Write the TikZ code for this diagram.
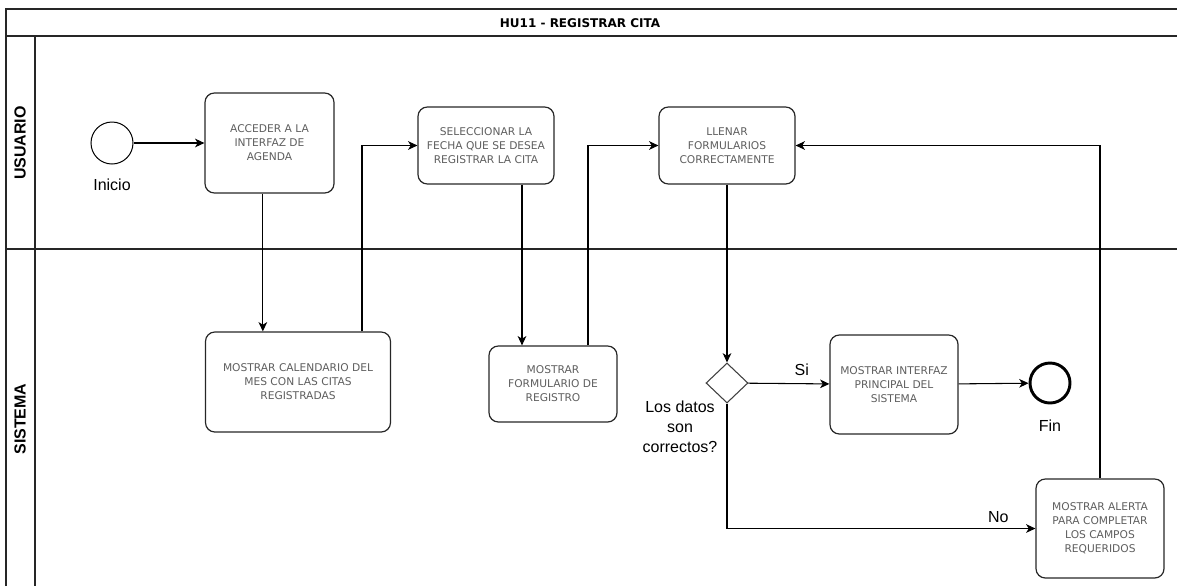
\documentclass[tikz,border=0pt]{standalone}
\usepackage{fontspec}
\setmainfont{Liberation Sans}
\newfontfamily\boxfont{DejaVu Sans}
\usetikzlibrary{positioning}
\usetikzlibrary{calc}
\usetikzlibrary{arrows.meta}
\usetikzlibrary{shapes.geometric}
\definecolor{boxtext}{HTML}{5E5E5E}

\begin{document}
\begin{tikzpicture}[x=0.75pt,y=-0.75pt,
  lane/.style={draw=black!85,line width=1pt},
  lanename/.style={rotate=90,font=\bfseries\fontsize{12}{14}\selectfont},
  box/.style={draw=black!85,line width=0.9pt,rounded corners=7pt,align=center,inner sep=2pt,
    text=boxtext,font=\boxfont\fontsize{8}{10.5}\selectfont},
  event/.style={circle,draw,line width=0.75pt,minimum size=31.5pt,inner sep=0pt},
  gate/.style={diamond,draw=black!75,line width=0.8pt,minimum width=31.5pt,minimum height=30pt,inner sep=0pt},
  lbl/.style={font=\fontsize{12}{15}\selectfont,align=center},
  flow/.style={line width=0.8pt,-{Stealth[length=7pt,width=6.5pt,inset=2pt]}}]
\useasboundingbox (0,0) rectangle (1177,586);

% pool and lanes
\draw[lane] (6,586) -- (6,9) -- (1177,9);
\draw[lane] (6,36) -- (1177,36);
\draw[lane] (6,249) -- (1177,249);
\draw[lane] (35,36) -- (35,586);
\node[font=\boxfont\bfseries\fontsize{9}{11}\selectfont] (titulo) at (580,23) {HU11 - REGISTRAR CITA};
\node[lanename] (usr) at (20,143) {USUARIO};
\node[lanename] (sis) at (20,419) {SISTEMA};

% usuario
\node[event] (ini) at (112,143) {};
\node[lbl,below=7.5pt of ini] (inil) {Inicio};
\node[box,minimum width=96.75pt,minimum height=75pt] (acc) at (269.5,143) {ACCEDER A LA\\INTERFAZ DE\\AGENDA};
\node[box,minimum width=102pt,minimum height=57.75pt] (sel) at (486,145.5) {SELECCIONAR LA\\FECHA QUE SE DESEA\\REGISTRAR LA CITA};
\node[box,minimum width=102pt,minimum height=57.75pt] (lle) at (727,145.5) {LLENAR\\FORMULARIOS\\CORRECTAMENTE};

% sistema
\node[box,minimum width=138.75pt,minimum height=75pt] (cal) at (298,382) {MOSTRAR CALENDARIO DEL\\MES CON LAS CITAS\\REGISTRADAS};
\node[box,minimum width=96pt,minimum height=57pt] (frm) at (553,384) {MOSTRAR\\FORMULARIO DE\\REGISTRO};
\node[gate] (dec) at (727,383) {};
\node[lbl] (pre) at (680,427) {Los datos\\son\\correctos?};
\node[box,minimum width=96pt,minimum height=74.25pt] (ppl) at (894,384.5) {MOSTRAR INTERFAZ\\PRINCIPAL DEL\\SISTEMA};
\node[event,line width=2.2pt,minimum size=30pt] (fin) at (1050,383) {};
\node[lbl,below=8pt of fin] (finl) {Fin};
\node[box,minimum width=96pt,minimum height=74.25pt] (ale) at (1100,528.5) {MOSTRAR ALERTA\\PARA COMPLETAR\\LOS CAMPOS\\REQUERIDOS};

% flujo
\draw[flow] (ini) -- (acc);
\draw[flow] ([xshift=-5pt]acc.south) -- ([xshift=-5pt]acc.south |- cal.north);
\draw[flow] ([xshift=48pt]cal.north) |- (sel.west);
\draw[flow] ([xshift=27pt]sel.south) -- ([xshift=27pt]sel.south |- frm.north);
\draw[flow] ([xshift=26.25pt]frm.north) |- (lle.west);
\draw[flow] (lle) -- (dec);
\draw[flow] (dec) -- node[lbl,above=2pt,pos=0.66] {Si} (ppl);
\draw[flow] (ppl) -- (fin);
\draw[flow] (dec.south) |- node[lbl,above=1pt,pos=0.94] {No} (ale.west);
\draw[flow] (ale.north) |- (lle.east);
\end{tikzpicture}
\end{document}
